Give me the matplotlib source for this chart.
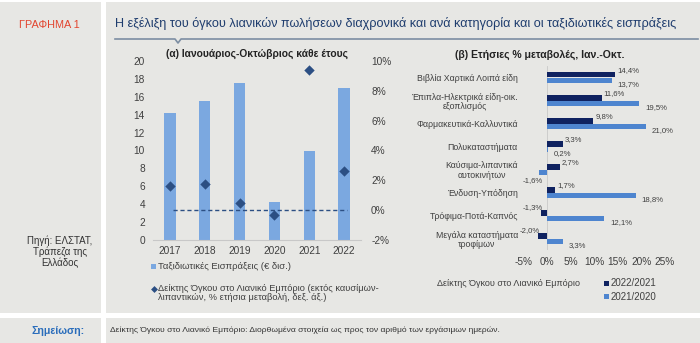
import matplotlib
matplotlib.use("Agg")
import matplotlib.pyplot as plt
from matplotlib.patches import Rectangle

plt.rcParams['font.family'] = ['Liberation Sans', 'DejaVu Sans']

# ---- data ----
years = ["2017", "2018", "2019", "2020", "2021", "2022"]
travel_receipts = [14.2, 15.5, 17.5, 4.3, 10.0, 17.0]        # € bn
retail_volume = [1.6, 1.75, 0.5, -0.35, 9.4, 2.6]            # % y/y

categories = [
    "Βιβλία Χαρτικά Λοιπά είδη",
    "Έπιπλα-Ηλεκτρικά είδη-οικ.\nεξοπλισμός",
    "Φαρμακευτικά-Καλλυντικά",
    "Πολυκαταστήματα",
    "Καύσιμα-λιπαντικά\nαυτοκινήτων",
    "Ένδυση-Υπόδηση",
    "Τρόφιμα-Ποτά-Καπνός",
    "Μεγάλα καταστήματα\nτροφίμων",
]
chg_2022_2021 = [14.4, 11.6, 9.8, 3.3, 2.7, 1.7, -1.3, -2.0]
chg_2021_2020 = [13.7, 19.5, 21.0, 0.2, -1.6, 18.8, 12.1, 3.3]

BG = "#e7e7e4"
BAR_LIGHT = "#7ba8e0"
DIAMOND = "#2c4f83"
DARK = "#0f2260"
MID = "#4e85cf"
TXT = "#404040"

W, H = 700, 343
fig = plt.figure(figsize=(W / 100, H / 100), dpi=100)
fig.patch.set_facecolor("white")


def px_axes(x0, y0, x1, y1, **kw):
    return fig.add_axes([x0 / W, 1 - y1 / H, (x1 - x0) / W, (y1 - y0) / H], **kw)


# background panels
bg = px_axes(0, 0, W, H)
bg.set_xlim(0, W)
bg.set_ylim(H, 0)
bg.axis("off")
bg.add_patch(Rectangle((0, 2), 101, 311, color=BG, lw=0))
bg.add_patch(Rectangle((106, 2), 594, 311, color=BG, lw=0))
bg.add_patch(Rectangle((0, 318), 101, 25, color=BG, lw=0))
bg.add_patch(Rectangle((106, 318), 594, 25, color=BG, lw=0))
# title rule with small notch
bg.plot([115, 175, 178, 181, 698], [39, 39, 43, 39, 39], color="#7d8ea3", lw=1.2)

bg.text(49, 25, "ΓΡΑΦΗΜΑ 1", color="#e2452f", fontsize=7.8, ha="center", va="center")
bg.text(115, 24, "Η εξέλιξη του όγκου λιανικών πωλήσεων διαχρονικά και ανά κατηγορία και οι ταξιδιωτικές εισπράξεις",
        color="#1f3d6e", fontsize=9.1, ha="left", va="center")
bg.text(60, 252, "Πηγή: ΕΛΣΤΑΤ,\nΤράπεζα της\nΕλλάδος", color="#333333", fontsize=7.0,
        ha="center", va="center", linespacing=1.1)
bg.text(58, 331, "Σημείωση:", color="#2a6dbb", fontsize=7.6, fontweight="bold", ha="center", va="center")
bg.text(110, 330, "Δείκτης Όγκου στο Λιανικό Εμπόριο: Διορθωμένα στοιχεία ως προς τον αριθμό των εργάσιμων ημερών.",
        color="#333333", fontsize=6.1, ha="left", va="center")

# ---- panel (a) ----
ax = px_axes(152.6, 61, 361.4, 240)
ax.set_facecolor("none")
x = list(range(len(years)))
ax.bar(x, travel_receipts, width=0.32, color=BAR_LIGHT, zorder=2)
ax.set_xlim(-0.5, 5.5)
ax.set_ylim(0, 20)
ax.set_yticks(range(0, 21, 2))
ax.set_xticks(x)
ax.set_xticklabels(years)
for s in ["top", "right", "left"]:
    ax.spines[s].set_visible(False)
ax.spines["bottom"].set_color("#c8c8c8")
ax.tick_params(axis="both", length=0, labelsize=7.3, colors=TXT)
ax.tick_params(axis="x", pad=4.5)
ax.tick_params(axis="y", pad=5.5)

ax2 = ax.twinx()
ax2.set_ylim(-2, 10)
ax2.set_yticks(range(-2, 11, 2))
ax2.set_yticklabels([f"{v}%" for v in range(-2, 11, 2)])
ax2.tick_params(axis="y", length=0, labelsize=7.3, colors=TXT, pad=7)
for s in ax2.spines.values():
    s.set_visible(False)
ax2.hlines(0, 0.1, 5.1, colors=DIAMOND, linestyles=(0, (3, 2)), lw=1.0, zorder=3)
ax2.scatter(x, retail_volume, marker="D", s=28, color=DIAMOND, zorder=4, linewidths=0)

bg.text(256.5, 54, "(α) Ιανουάριος-Οκτώβριος κάθε έτους",
        ha="center", va="center", fontsize=7.4, fontweight="bold", color="#222222")

# legend for panel (a)
bg.add_patch(Rectangle((151, 264), 5, 5, color=BAR_LIGHT, lw=0))
bg.text(158, 266.5, "Ταξιδιωτικές Εισπράξεις (€ δισ.)", fontsize=6.8, color=TXT, ha="left", va="center")
bg.plot([153.5], [288.5], marker="D", markersize=3.5, color=DIAMOND, markeredgewidth=0)
bg.text(158, 288.5, "Δείκτης Όγκου στο Λιανικό Εμπόριο (εκτός καυσίμων-", fontsize=6.7, color=TXT,
        ha="left", va="center")
bg.text(158, 297.5, "λιπαντικών, % ετήσια μεταβολή, δεξ. άξ.)", fontsize=6.7, color=TXT,
        ha="left", va="center")

# ---- panel (b) ----
bx = px_axes(523.4, 66, 665, 250)
bx.set_facecolor("none")
ypos = list(range(len(categories)))
off = 0.13
hgt = 0.26
bx.barh([y - off for y in ypos], chg_2022_2021, height=hgt, color=DARK, zorder=2)
bx.barh([y + off for y in ypos], chg_2021_2020, height=hgt, color=MID, zorder=2)
bx.set_xlim(-5, 25)
bx.set_ylim(len(categories) - 0.5, -0.5)
bx.set_xticks(range(-5, 26, 5))
bx.set_xticklabels([f"{v}%" for v in range(-5, 26, 5)])
bx.set_yticks(ypos)
bx.set_yticklabels(categories, multialignment="center")
for t in bx.get_yticklabels():
    t.set_linespacing(1.05)
for s in bx.spines.values():
    s.set_visible(False)
bx.axvline(0, color="#c8c8c8", lw=0.6, zorder=1)
bx.tick_params(axis="x", length=0, labelsize=7.3, colors=TXT, pad=5)
bx.tick_params(axis="y", length=0, labelsize=6.3, colors=TXT, pad=4)


def fmt(v):
    return f"{v:.1f}%".replace(".", ",")


for y, v in zip(ypos, chg_2022_2021):
    if v >= 0:
        bx.annotate(fmt(v), (v, y - off), xytext=(2, 4), textcoords="offset pixels",
                    ha="left", va="center", fontsize=5.6, color=TXT)
    else:
        bx.annotate(fmt(v), (v, y - off), xytext=(-8, 5), textcoords="offset pixels",
                    ha="center", va="center", fontsize=5.6, color=TXT)
for y, v in zip(ypos, chg_2021_2020):
    if v >= 0:
        bx.annotate(fmt(v), (v, y + off), xytext=(6, -4), textcoords="offset pixels",
                    ha="left", va="center", fontsize=5.6, color=TXT)
    else:
        bx.annotate(fmt(v), (v, y + off), xytext=(-7, -8), textcoords="offset pixels",
                    ha="center", va="center", fontsize=5.6, color=TXT)

bg.text(540, 55, "(β) Ετήσιες % μεταβολές, Ιαν.-Οκτ.",
        ha="center", va="center", fontsize=7.6, fontweight="bold", color="#222222")

# legend for panel (b)
bg.text(437, 283.5, "Δείκτης Όγκου στο Λιανικό Εμπόριο", fontsize=6.5, color=TXT, ha="left", va="center")
bg.add_patch(Rectangle((604, 281), 5, 5, color=DARK, lw=0))
bg.text(611, 283.5, "2022/2021", fontsize=7.0, color=TXT, ha="left", va="center")
bg.add_patch(Rectangle((604, 294), 5, 5, color=MID, lw=0))
bg.text(611, 296.5, "2021/2020", fontsize=7.0, color=TXT, ha="left", va="center")

fig.savefig("out.png", dpi=100, facecolor=fig.get_facecolor())
